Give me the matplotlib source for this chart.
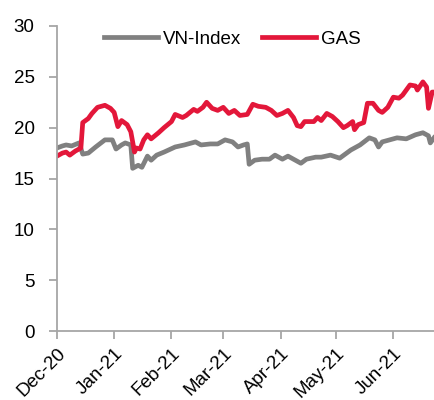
import numpy as np
import pandas as pd
import matplotlib
matplotlib.use("Agg")
import matplotlib.pyplot as plt
import matplotlib.dates as mdates

# VN-Index (rebased) and GAS price
vn_dates = ["2020-12-01", "2020-12-04", "2020-12-06", "2020-12-09", "2020-12-13", "2020-12-15",
            "2020-12-18", "2020-12-22", "2020-12-27", "2020-12-31", "2021-01-02", "2021-01-05",
            "2021-01-07", "2021-01-10", "2021-01-11", "2021-01-14", "2021-01-16", "2021-01-19",
            "2021-01-21", "2021-01-24", "2021-01-28", "2021-02-03", "2021-02-08", "2021-02-14",
            "2021-02-17", "2021-02-22", "2021-02-26", "2021-03-02", "2021-03-06", "2021-03-09",
            "2021-03-12", "2021-03-14", "2021-03-15", "2021-03-18", "2021-03-22", "2021-03-26",
            "2021-03-29", "2021-04-02", "2021-04-05", "2021-04-09", "2021-04-12", "2021-04-15",
            "2021-04-20", "2021-04-23", "2021-04-28", "2021-05-03", "2021-05-09", "2021-05-14",
            "2021-05-19", "2021-05-22", "2021-05-24", "2021-05-26", "2021-06-03", "2021-06-08",
            "2021-06-13", "2021-06-17", "2021-06-20", "2021-06-21", "2021-06-23"]
vn_values = [18.0, 18.2, 18.3, 18.2, 18.5, 17.4,
             17.5, 18.1, 18.8, 18.8, 17.9, 18.3,
             18.5, 18.3, 16.0, 16.3, 16.1, 17.2,
             16.8, 17.3, 17.6, 18.1, 18.3, 18.6,
             18.3, 18.4, 18.4, 18.8, 18.6, 18.1,
             18.3, 18.4, 16.4, 16.8, 16.9, 16.9,
             17.3, 16.9, 17.2, 16.8, 16.5, 16.9,
             17.1, 17.1, 17.3, 17.0, 17.8, 18.3,
             19.0, 18.8, 18.1, 18.6, 19.0, 18.9,
             19.3, 19.5, 19.2, 18.5, 19.0]

gas_dates = ["2020-12-01", "2020-12-04", "2020-12-06", "2020-12-08", "2020-12-11", "2020-12-14",
             "2020-12-15", "2020-12-18", "2020-12-20", "2020-12-23", "2020-12-27", "2020-12-30",
             "2021-01-01", "2021-01-03", "2021-01-05", "2021-01-08", "2021-01-10", "2021-01-12",
             "2021-01-13", "2021-01-15", "2021-01-17", "2021-01-19", "2021-01-21", "2021-01-25",
             "2021-01-28", "2021-02-01", "2021-02-03", "2021-02-07", "2021-02-09", "2021-02-13",
             "2021-02-15", "2021-02-18", "2021-02-20", "2021-02-23", "2021-02-26", "2021-03-01",
             "2021-03-04", "2021-03-07", "2021-03-10", "2021-03-14", "2021-03-17", "2021-03-20",
             "2021-03-24", "2021-03-27", "2021-03-30", "2021-04-02", "2021-04-05", "2021-04-08",
             "2021-04-10", "2021-04-12", "2021-04-14", "2021-04-19", "2021-04-21", "2021-04-23",
             "2021-04-26", "2021-04-29", "2021-05-02", "2021-05-05", "2021-05-07", "2021-05-10",
             "2021-05-11", "2021-05-13", "2021-05-16", "2021-05-18", "2021-05-21", "2021-05-24",
             "2021-05-26", "2021-05-29", "2021-06-01", "2021-06-04", "2021-06-06", "2021-06-10",
             "2021-06-13", "2021-06-14", "2021-06-17", "2021-06-19", "2021-06-20", "2021-06-22",
             "2021-06-23"]
gas_values = [17.2, 17.5, 17.6, 17.3, 17.7, 18.0,
              20.5, 20.9, 21.4, 22.0, 22.2, 21.9,
              21.5, 20.1, 20.7, 20.3, 19.6, 17.6,
              18.0, 17.9, 18.8, 19.3, 18.9, 19.5,
              20.0, 20.6, 21.3, 21.0, 21.2, 21.8,
              21.6, 22.0, 22.5, 21.9, 21.7, 22.0,
              21.4, 21.7, 21.2, 21.3, 22.3, 22.1,
              22.0, 21.7, 21.2, 21.4, 21.7, 21.0,
              20.2, 20.1, 20.6, 20.6, 21.0, 20.7,
              21.4, 21.1, 20.6, 20.0, 20.2, 20.6,
              19.8, 20.3, 20.5, 22.4, 22.4, 21.7,
              21.5, 22.0, 23.0, 22.9, 23.2, 24.2,
              24.1, 23.7, 24.5, 24.0, 21.9, 23.5,
              23.5]

y_ticks = [0, 5, 10, 15, 20, 25, 30]

plt.rcParams['font.family'] = ['Liberation Sans', 'DejaVu Sans']

fig = plt.figure(figsize=(4.34, 4.0), dpi=100)
ax = fig.add_axes([0.131, 0.1725, 0.869, 0.7625])

ax.plot(pd.to_datetime(vn_dates), vn_values, color='#808080', lw=3.4, label='VN-Index')
ax.plot(pd.to_datetime(gas_dates), gas_values, color='#E3173A', lw=3.4, label='GAS')

ax.set_xlim(pd.Timestamp("2020-12-01"), pd.Timestamp("2021-06-23"))
ax.set_ylim(0, 30)
ax.set_yticks(y_ticks)
ax.xaxis.set_major_locator(mdates.MonthLocator())
ax.xaxis.set_major_formatter(mdates.DateFormatter('%b-%y'))
plt.setp(ax.get_xticklabels(), rotation=45, ha='right', rotation_mode='anchor')

for s in ['top', 'right']:
    ax.spines[s].set_visible(False)
for s in ['left', 'bottom']:
    ax.spines[s].set_color('#a6a6a6')
    ax.spines[s].set_linewidth(1.3)
ax.tick_params(axis='both', colors='#a6a6a6', labelcolor='black', labelsize=13.5,
               length=6, width=1.3, direction='out')
ax.tick_params(axis='y', pad=10)
ax.tick_params(axis='x', pad=4)

ax.legend(loc='upper center', bbox_to_anchor=(0.465, 1.04), ncol=2, frameon=False,
          fontsize=13.5, handlelength=2.9, columnspacing=1.1, handletextpad=0.25)

fig.savefig('out.png', dpi=100)
